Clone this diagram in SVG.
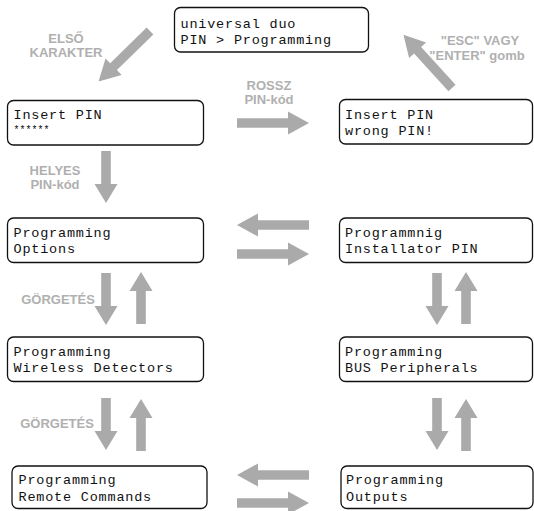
<svg xmlns="http://www.w3.org/2000/svg" width="534" height="511" viewBox="0 0 534 511">
<style>
.box{fill:#fff;stroke:#111;stroke-width:1.3}
.lcd{font-family:"Liberation Mono","DejaVu Sans Mono",monospace;font-size:13.5px;letter-spacing:0.8px;fill:#111}
.lbl{font-family:"Liberation Sans",Arial,sans-serif;font-weight:bold;font-size:13px;fill:#b0b0b0;text-anchor:middle}
.arr{fill:#aaaaaa}
</style>
<defs>
<path id="aL" class="arr" d="M0,-4.8 H51 V-11.5 L72,0 L51,11.5 V4.8 H0 Z"/>
<path id="aS" class="arr" d="M0,-4.8 H33 V-11.5 L52,0 L33,11.5 V4.8 H0 Z"/>
</defs>
<rect width="534" height="511" fill="#fff"/>
<g id="connectors">
<use href="#aL" transform="translate(150,31) rotate(135.6)"/>
<use href="#aL" transform="translate(452,88) rotate(-132.4)"/>
<use href="#aL" transform="translate(237,123)"/>
<use href="#aS" transform="translate(106,151) rotate(90)"/>
<use href="#aL" transform="translate(309,225) rotate(180)"/>
<use href="#aL" transform="translate(237,254)"/>
<use href="#aS" transform="translate(106,273) rotate(90)"/>
<use href="#aS" transform="translate(141,324) rotate(-90)"/>
<use href="#aS" transform="translate(437,273) rotate(90)"/>
<use href="#aS" transform="translate(466,324) rotate(-90)"/>
<use href="#aS" transform="translate(106,398) rotate(90)"/>
<use href="#aS" transform="translate(141,451) rotate(-90)"/>
<use href="#aS" transform="translate(437,398) rotate(90)"/>
<use href="#aS" transform="translate(466,451) rotate(-90)"/>
<use href="#aL" transform="translate(309,475) rotate(180)"/>
<use href="#aL" transform="translate(237,503)"/>
</g>
<g id="labels">
<text class="lbl" x="66" y="43">ELSŐ</text>
<text class="lbl" x="66" y="57">KARAKTER</text>
<text class="lbl" x="269" y="90">ROSSZ</text>
<text class="lbl" x="269" y="104">PIN-kód</text>
<text class="lbl" x="480" y="45">"ESC" VAGY</text>
<text class="lbl" x="477" y="60">"ENTER" gomb</text>
<text class="lbl" x="55" y="175">HELYES</text>
<text class="lbl" x="55" y="189">PIN-kód</text>
<text class="lbl" x="58" y="304">GÖRGETÉS</text>
<text class="lbl" x="57" y="428">GÖRGETÉS</text>
</g>
<g id="n-start">
<rect class="box" x="174.5" y="7.5" width="194" height="44.5" rx="6"/>
<text class="lcd" x="180.5" y="28">universal duo</text>
<text class="lcd" x="180.5" y="43.5">PIN &gt; Programming</text>
</g>
<g id="n-insert-pin">
<rect class="box" x="7.5" y="100.5" width="196" height="44.5" rx="6"/>
<text class="lcd" x="13.5" y="119">Insert PIN</text>
<text class="lcd" x="13.5" y="133" style="font-size:10px;letter-spacing:0">******</text>
</g>
<g id="n-wrong-pin">
<rect class="box" x="339.5" y="99.5" width="193" height="44.5" rx="6"/>
<text class="lcd" x="345" y="118.5">Insert PIN</text>
<text class="lcd" x="345" y="135">wrong PIN!</text>
</g>
<g id="n-options">
<rect class="box" x="7.5" y="218" width="196" height="44.5" rx="6"/>
<text class="lcd" x="13.5" y="237">Programming</text>
<text class="lcd" x="13.5" y="253">Options</text>
</g>
<g id="n-installer">
<rect class="box" x="339.5" y="218" width="193" height="44.5" rx="6"/>
<text class="lcd" x="345" y="237">Programmnig</text>
<text class="lcd" x="345" y="253">Installator PIN</text>
</g>
<g id="n-wireless">
<rect class="box" x="7.5" y="337" width="196" height="44.5" rx="6"/>
<text class="lcd" x="13.5" y="356">Programming</text>
<text class="lcd" x="13.5" y="372">Wireless Detectors</text>
</g>
<g id="n-bus">
<rect class="box" x="339.5" y="337" width="193" height="44.5" rx="6"/>
<text class="lcd" x="345" y="356">Programming</text>
<text class="lcd" x="345" y="372">BUS Peripherals</text>
</g>
<g id="n-remote">
<rect class="box" x="12" y="466" width="195" height="42.5" rx="6"/>
<text class="lcd" x="18.5" y="484">Programming</text>
<text class="lcd" x="18.5" y="500.5">Remote Commands</text>
</g>
<g id="n-outputs">
<rect class="box" x="341" y="466" width="192" height="42.5" rx="6"/>
<text class="lcd" x="346" y="484">Programming</text>
<text class="lcd" x="346" y="500.5">Outputs</text>
</g>
</svg>
